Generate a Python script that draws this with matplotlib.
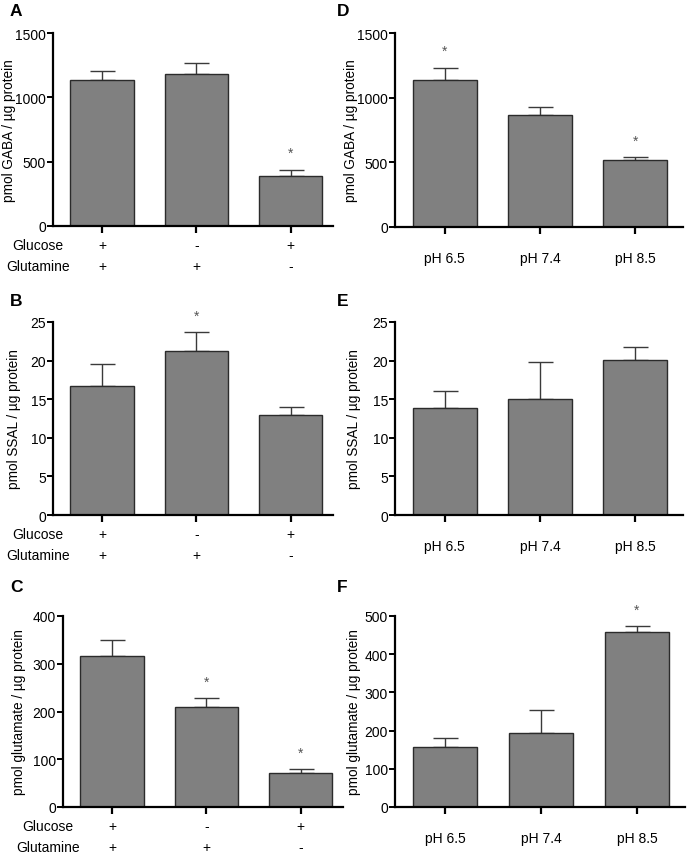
import matplotlib
matplotlib.use("Agg")
import matplotlib.pyplot as plt
import matplotlib.transforms as mtrans
import numpy as np

plt.rcParams['font.family'] = ['Liberation Sans', 'DejaVu Sans']

# veri
glucose = ['+', '-', '+']
glutamine = ['+', '+', '-']
ph_labels = ['pH 6.5', 'pH 7.4', 'pH 8.5']

gaba_a = [1135, 1180, 390]
gaba_a_err = [70, 85, 46]
ssal_b = [16.7, 21.2, 12.9]
ssal_b_err = [2.8, 2.5, 1.1]
glu_c = [316, 209, 71]
glu_c_err = [33, 19, 8]

gaba_d = [1140, 868, 520]
gaba_d_err = [92, 60, 18]
ssal_e = [13.9, 15.0, 20.1]
ssal_e_err = [2.2, 4.8, 1.7]
glu_f = [158, 193, 459]
glu_f_err = [22, 62, 14]

stars_a = [0, 0, 1]
stars_b = [0, 1, 0]
stars_c = [0, 1, 1]
stars_d = [1, 0, 1]
stars_e = [0, 0, 0]
stars_f = [0, 0, 1]

W, H = 689, 853
fig = plt.figure(figsize=(W / 100, H / 100), dpi=100)


def px_axes(x0, y0, x1, y1):
    # piksel kutusundan eksen olustur
    return fig.add_axes([x0 / W, 1 - y1 / H, (x1 - x0) / W, (y1 - y0) / H])


def draw(ax, vals, errs, stars, ymax, step, ylabel, label_x, right):
    x = np.arange(len(vals))
    ax.bar(x, vals, width=0.67, color='#808080', edgecolor='#2b2b2b', linewidth=1.0, zorder=2)
    ax.errorbar(x, vals, yerr=[np.zeros(len(vals)), errs], fmt='none', ecolor='#3a3a3a',
                elinewidth=1.0, capsize=9, capthick=1.0, zorder=1)
    for xi, v, e, s in zip(x, vals, errs, stars):
        if s:
            ax.annotate('*', (xi, v + e), xytext=(0, 12), textcoords='offset points',
                        ha='center', va='center', fontsize=10, color='#555555')
    ax.set_ylim(0, ymax)
    ax.set_yticks(np.arange(0, ymax + 1e-9, step))
    ax.set_xlim(-0.52, 2.5 if right else 2.45)
    ax.set_xticks(x)
    for s in ['top', 'right']:
        ax.spines[s].set_visible(False)
    for s in ['left', 'bottom']:
        ax.spines[s].set_linewidth(1.6)
    ax.tick_params(axis='y', length=4, width=1.4, labelsize=10, pad=1)
    ax.tick_params(axis='x', length=5, width=1.6, labelsize=10, pad=12)
    ax.set_ylabel(ylabel, fontsize=9.8)
    tr = mtrans.blended_transform_factory(fig.transFigure, ax.transAxes)
    ax.yaxis.set_label_coords(label_x / W, 0.5, transform=tr)
    if right:
        ax.set_xticklabels(ph_labels)
    else:
        ax.set_xticklabels([])
        trx = mtrans.blended_transform_factory(ax.transData, ax.transAxes)
        row1 = -19 / 193
        row2 = -40 / 193
        ax.text(-0.68, row1, 'Glucose', transform=trx, ha='center', va='center', fontsize=10)
        ax.text(-0.68, row2, 'Glutamine', transform=trx, ha='center', va='center', fontsize=10)
        for xi, g, q in zip(x, glucose, glutamine):
            ax.text(xi, row1, g, transform=trx, ha='center', va='center', fontsize=10)
            ax.text(xi, row2, q, transform=trx, ha='center', va='center', fontsize=10)


axA = px_axes(53, 34, 333, 227)
draw(axA, gaba_a, gaba_a_err, stars_a, 1500, 500, 'pmol GABA / µg protein', 16, False)
axB = px_axes(53, 323, 333, 516)
draw(axB, ssal_b, ssal_b_err, stars_b, 25, 5, 'pmol SSAL / µg protein', 21, False)
axC = px_axes(63, 617, 343, 808)
draw(axC, glu_c, glu_c_err, stars_c, 400, 100, 'pmol glutamate / µg protein', 26, False)

axD = px_axes(395, 34, 683, 228)
draw(axD, gaba_d, gaba_d_err, stars_d, 1500, 500, 'pmol GABA / µg protein', 358, True)
axE = px_axes(395, 323, 683, 516)
draw(axE, ssal_e, ssal_e_err, stars_e, 25, 5, 'pmol SSAL / µg protein', 361, True)
axF = px_axes(395, 617, 685, 808)
draw(axF, glu_f, glu_f_err, stars_f, 500, 100, 'pmol glutamate / µg protein', 361, True)

# panel harfleri
for lab, px, py in [('A', 10, 12), ('B', 10, 302), ('C', 10, 587),
                    ('D', 337, 12), ('E', 337, 302), ('F', 337, 587)]:
    fig.text(px / W, 1 - py / H, lab, fontsize=12.5, fontweight='bold', ha='left', va='center')

fig.savefig('out.png', dpi=100)
